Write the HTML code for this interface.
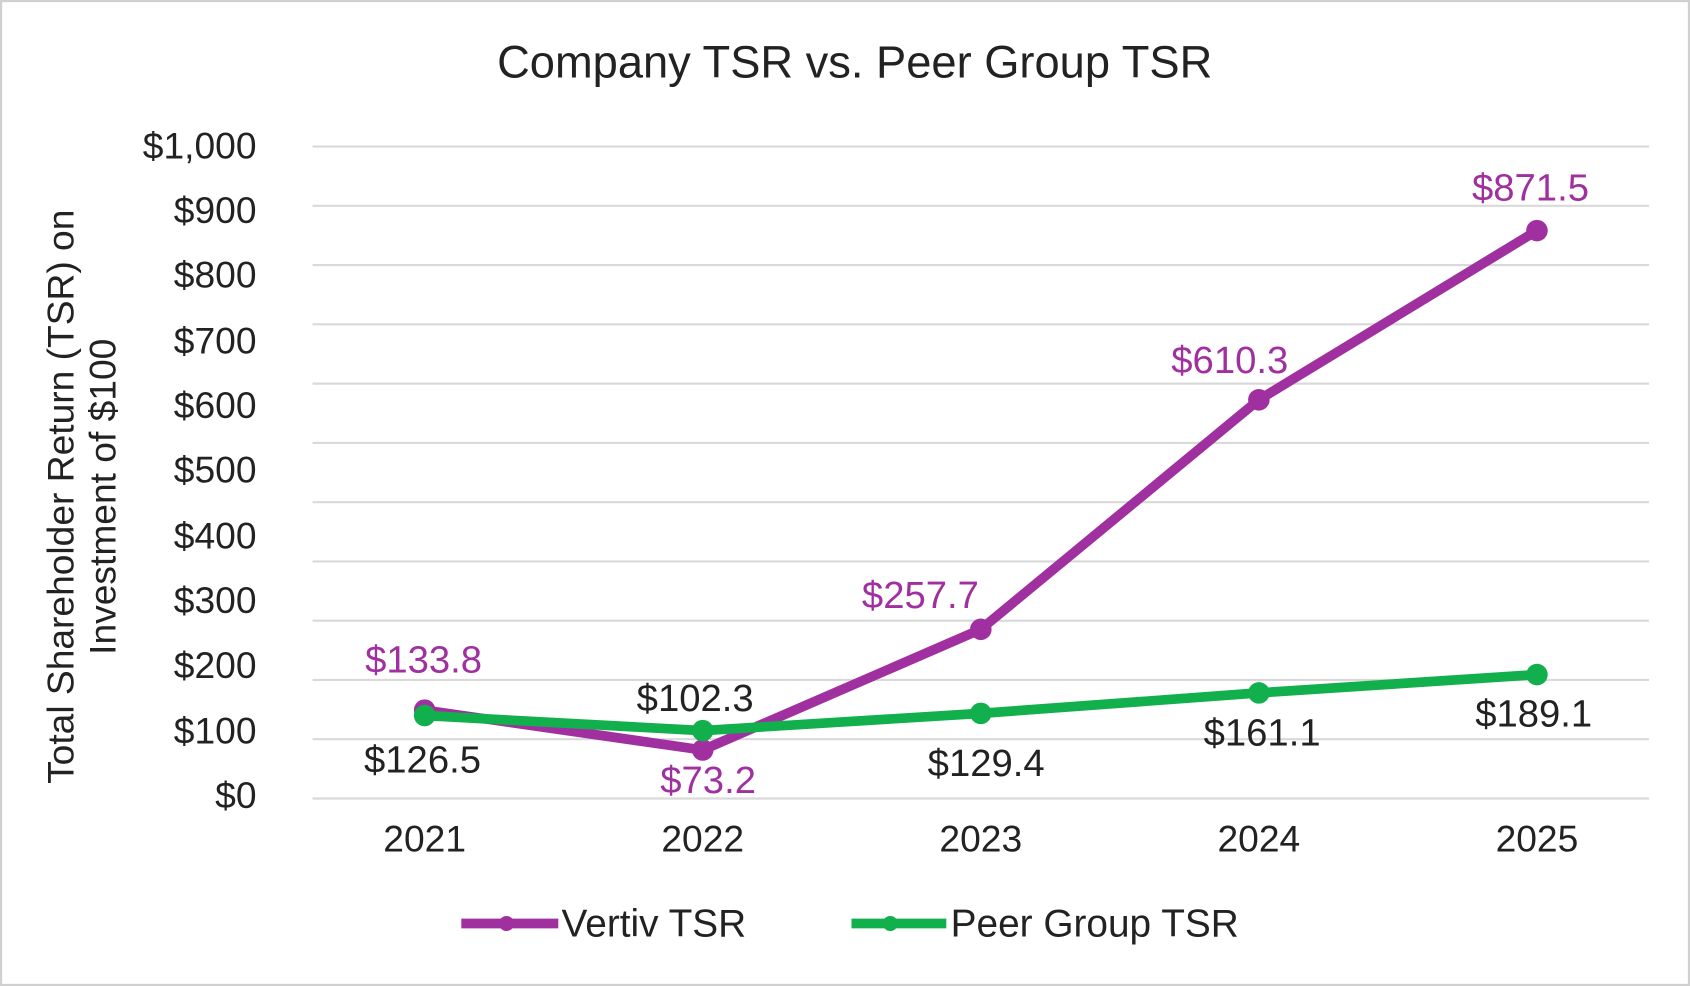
<!DOCTYPE html>
<html><head><meta charset="utf-8"><style>
html,body{margin:0;padding:0;background:#fff;}
svg{display:block;}
text{font-family:"Liberation Sans",Arial,sans-serif;}
</style></head><body>
<svg width="1690" height="986" viewBox="0 0 1568 915" preserveAspectRatio="none" xmlns="http://www.w3.org/2000/svg">
<rect x="1" y="1" width="1566" height="913" fill="#fff" stroke="#d0d0d0" stroke-width="2"/>
<text x="793" y="72" font-size="42" text-anchor="middle" fill="#222">Company TSR vs. Peer Group TSR</text>
<g stroke="#d9d9d9" stroke-width="2">
<line x1="290" x2="1530" y1="136" y2="136"/><line x1="290" x2="1530" y1="191" y2="191"/>
<line x1="290" x2="1530" y1="246" y2="246"/><line x1="290" x2="1530" y1="301" y2="301"/>
<line x1="290" x2="1530" y1="356" y2="356"/><line x1="290" x2="1530" y1="411" y2="411"/>
<line x1="290" x2="1530" y1="466" y2="466"/><line x1="290" x2="1530" y1="521" y2="521"/>
<line x1="290" x2="1530" y1="576" y2="576"/><line x1="290" x2="1530" y1="631" y2="631"/>
<line x1="290" x2="1530" y1="686" y2="686"/><line x1="290" x2="1530" y1="741" y2="741"/>
</g>
<g font-size="34.5" fill="#222" text-anchor="end">
<text x="238" y="147">$1,000</text><text x="238" y="207">$900</text><text x="238" y="267">$800</text>
<text x="238" y="328">$700</text><text x="238" y="388">$600</text><text x="238" y="448">$500</text>
<text x="238" y="509">$400</text><text x="238" y="569">$300</text><text x="238" y="629">$200</text>
<text x="238" y="690">$100</text><text x="238" y="750">$0</text>
</g>
<g font-size="34.5" fill="#222" text-anchor="middle">
<text x="394" y="790">2021</text><text x="652" y="790">2022</text><text x="910" y="790">2023</text>
<text x="1168" y="790">2024</text><text x="1426" y="790">2025</text>
</g>
<g font-size="34.5" fill="#222" text-anchor="middle">
<text transform="translate(68,461) rotate(-90)">Total Shareholder Return (TSR) on</text>
<text transform="translate(107,461) rotate(-90)">Investment of $100</text>
</g>
<polyline points="394,659 652,696 910,584 1168,371 1426,214" fill="none" stroke="#a0309f" stroke-width="9" stroke-linejoin="round"/>
<g fill="#a0309f"><circle cx="394" cy="659" r="10"/><circle cx="652" cy="696" r="10"/><circle cx="910" cy="584" r="10"/><circle cx="1168" cy="371" r="10"/><circle cx="1426" cy="214" r="10"/></g>
<polyline points="394,664 652,678 910,662 1168,643 1426,626" fill="none" stroke="#12b04c" stroke-width="9" stroke-linejoin="round"/>
<g fill="#12b04c"><circle cx="394" cy="664" r="10"/><circle cx="652" cy="678" r="10"/><circle cx="910" cy="662" r="10"/><circle cx="1168" cy="643" r="10"/><circle cx="1426" cy="626" r="10"/></g>
<g font-size="35.5" fill="#a0309f" text-anchor="middle">
<text x="393" y="624">$133.8</text><text x="657" y="736">$73.2</text><text x="854" y="564">$257.7</text>
<text x="1141" y="346">$610.3</text><text x="1420" y="186">$871.5</text>
</g>
<g font-size="35.5" fill="#222" text-anchor="middle">
<text x="392" y="717">$126.5</text><text x="645" y="660">$102.3</text><text x="915" y="720">$129.4</text>
<text x="1171" y="692">$161.1</text><text x="1423" y="674">$189.1</text>
</g>
<line x1="428" x2="518" y1="857" y2="857" stroke="#a0309f" stroke-width="9"/>
<circle cx="470" cy="857" r="7" fill="#a0309f"/>
<text x="521" y="869" font-size="36" fill="#222">Vertiv TSR</text>
<line x1="790" x2="878" y1="857" y2="857" stroke="#12b04c" stroke-width="9"/>
<circle cx="826" cy="857" r="7" fill="#12b04c"/>
<text x="882" y="869" font-size="36" fill="#222">Peer Group TSR</text>
</svg>
</body></html>
